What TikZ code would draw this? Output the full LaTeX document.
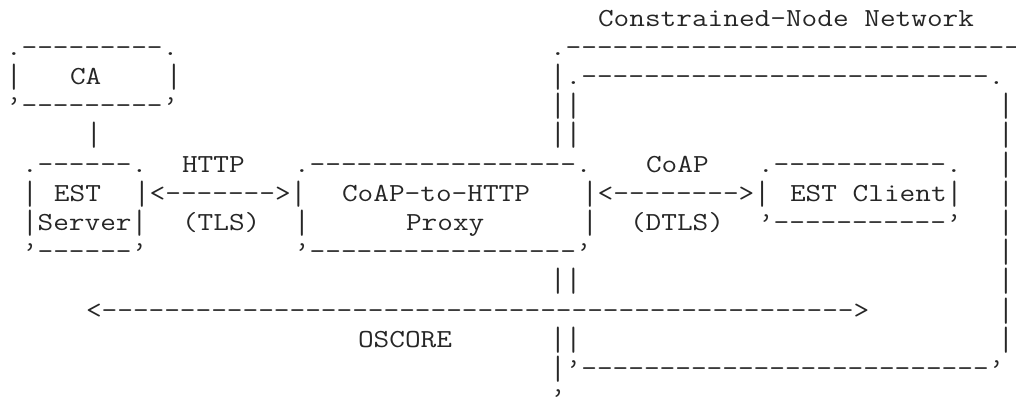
\documentclass[tikz,border=0pt]{standalone}
\usepackage{graphicx}
\usepackage{fontspec}
\setmonofont[FakeStretch=1.17]{Latin Modern Mono}

\def\colw{8pt}
\def\rowh{14.6pt}
\tikzset{
    ascii/.style={anchor=base west, inner sep=0pt, outer sep=0pt, text=black!85,
        font=\ttfamily\fontsize{13}{14.6}\selectfont}
}
% one run of characters: name, column, row, text
\newcommand{\asc}[4]{\node[ascii] (#1) at ({3pt+#2*\colw},{186pt-#3*\rowh}) {#4};}
% a bar nearly as tall as a row
\newcommand{\vbar}{\raisebox{-1.5pt}{\scalebox{1}[1.3]{|}}}

\begin{document}
\begin{tikzpicture}
    \useasboundingbox (0,0) rectangle (508pt,199pt);

    \asc{cnn}{37}{0}{Constrained-Node Network}

    % CA
    \asc{ca-top}{0}{1}{.---------.}
    \asc{ca-l}{0}{2}{\vbar}
    \asc{ca}{4}{2}{CA}
    \asc{ca-r}{10}{2}{\vbar}
    \asc{ca-bot}{0}{3}{’---------’}
    \asc{ca-link}{5}{4}{\vbar}

    % network frame
    \asc{net-top}{34}{1}{.-----------------------------}
    \asc{net-in-top}{34}{2}{\vbar.--------------------------.}
    \foreach \r in {3,4,9,11} {\asc{net-l-\r}{34}{\r}{\vbar\vbar}}
    \foreach \r in {3,...,11} {\asc{net-r-\r}{62}{\r}{\vbar}}
    \asc{net-in-bot}{34}{12}{\vbar’--------------------------’}
    \asc{net-bot}{34}{13}{’}

    % EST server
    \asc{srv-top}{1}{5}{.------.}
    \asc{srv-l}{1}{6}{\vbar}
    \asc{srv-est}{3}{6}{EST}
    \asc{srv}{1}{7}{\vbar Server\vbar}
    \asc{srv-bot}{1}{8}{’------’}

    % HTTP link
    \asc{http}{11}{5}{HTTP}
    \asc{http-arrow}{8}{6}{\vbar<------->\vbar}
    \asc{tls}{11}{7}{(TLS)}

    % proxy
    \asc{proxy-top}{18}{5}{.-----------------.}
    \asc{proxy}{21}{6}{CoAP-to-HTTP}
    \asc{proxy-l}{18}{7}{\vbar}
    \asc{proxy-2}{25}{7}{Proxy}
    \asc{proxy-r}{36}{7}{\vbar}
    \asc{proxy-bot}{18}{8}{’-----------------’}

    % CoAP link
    \asc{coap}{40}{5}{CoAP}
    \asc{coap-arrow}{36}{6}{\vbar<-------->\vbar}
    \asc{dtls}{39}{7}{(DTLS)}

    % EST client
    \asc{cli-top}{47}{5}{.-----------.}
    \asc{cli}{49}{6}{EST Client\vbar}
    \asc{cli-bot}{47}{7}{’-----------’}

    % OSCORE
    \asc{oscore-arrow}{5}{10}{<------------------------------------------------>}
    \asc{oscore}{22}{11}{OSCORE}
\end{tikzpicture}
\end{document}
